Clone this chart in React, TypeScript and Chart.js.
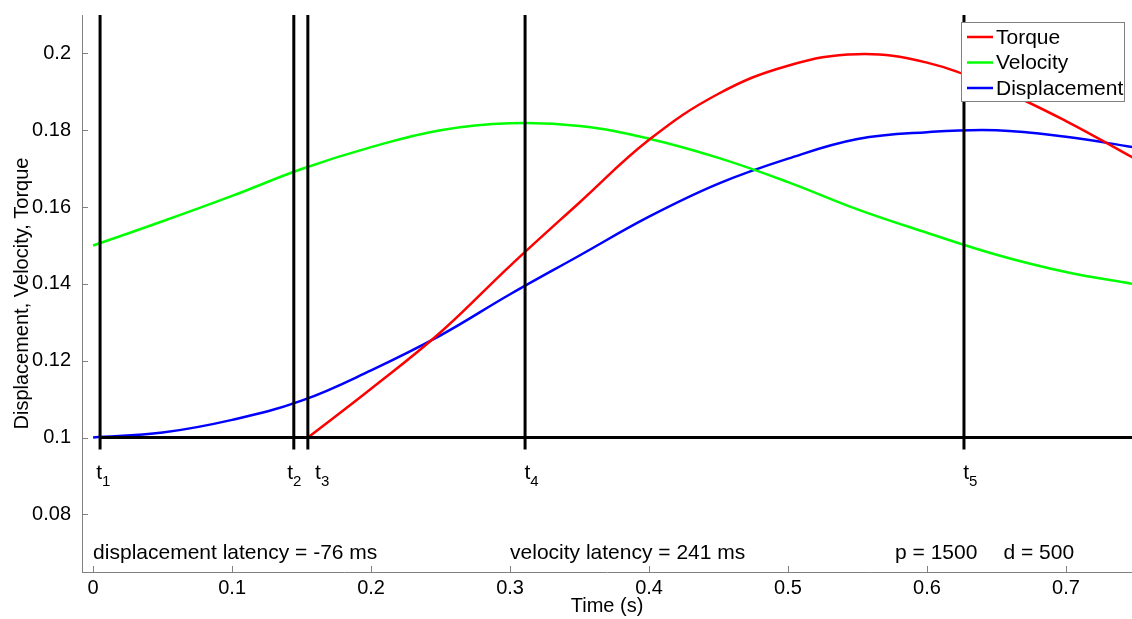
import React, { useEffect, useRef } from 'react';
import { Chart, registerables } from 'chart.js';

Chart.register(...registerables);

// ---- data ----
const timeValues = [0, 0.05, 0.1, 0.15, 0.2, 0.25, 0.3, 0.35, 0.4, 0.45, 0.5, 0.55, 0.6, 0.65, 0.7, 0.75];
const velocityValues = [0.15, 0.1563, 0.1629, 0.1699, 0.1756, 0.18, 0.1818, 0.1811, 0.1778, 0.1728, 0.1665, 0.1594, 0.1533, 0.1476, 0.1431, 0.1399];
const displacementValues = [0.1, 0.1013, 0.1046, 0.1096, 0.1175, 0.1266, 0.1373, 0.1474, 0.1575, 0.1661, 0.1726, 0.1777, 0.1795, 0.18, 0.1783, 0.1755];
const torqueTime = [0.1545, 0.2, 0.25, 0.3, 0.35, 0.4, 0.45, 0.5, 0.55, 0.6, 0.65, 0.7, 0.75];
const torqueValues = [0.1, 0.1127, 0.1274, 0.1447, 0.1612, 0.1775, 0.1895, 0.1968, 0.1998, 0.1976, 0.191, 0.1824, 0.1725];

const eventTimes = [0.005, 0.1444, 0.1545, 0.3108, 0.6266];
const eventSubscripts = ['1', '2', '3', '4', '5'];
const eventLabelX = [0.0022, 0.1396, 0.1597, 0.3104, 0.626];
const eventLabelY = 0.0893;
const eventLineBottom = 0.0969;
const baselineValue = 0.1;

const xTicks = [0, 0.1, 0.2, 0.3, 0.4, 0.5, 0.6, 0.7];
const yTicks = [0.08, 0.1, 0.12, 0.14, 0.16, 0.18, 0.2];

const annotationTexts = ['displacement latency = -76 ms', 'velocity latency = 241 ms', 'p = 1500', 'd = 500'];
const annotationX = [0, 0.3, 0.577, 0.655];
const annotationY = 0.07;

const seriesNames = ['Torque', 'Velocity', 'Displacement'];
const seriesColors = ['#ff0000', '#00ff00', '#0000ff'];

const FONT = '"Liberation Sans", Arial, Helvetica, sans-serif';
const FS = 20;
const FS_TEXT = 21;

const overlayPlugin = {
  id: 'overlay',
  afterDatasetsDraw(chart: any) {
    const { ctx, chartArea } = chart;
    const xs = chart.scales.x;
    const ys = chart.scales.y;
    ctx.save();

    // inward tick marks
    ctx.strokeStyle = '#808080';
    ctx.lineWidth = 1;
    xTicks.forEach((v) => {
      const px = Math.round(xs.getPixelForValue(v)) + 0.5;
      ctx.beginPath();
      ctx.moveTo(px, chartArea.bottom);
      ctx.lineTo(px, chartArea.bottom - 6);
      ctx.stroke();
    });
    yTicks.forEach((v) => {
      const py = Math.round(ys.getPixelForValue(v)) + 0.5;
      ctx.beginPath();
      ctx.moveTo(chartArea.left, py);
      ctx.lineTo(chartArea.left + 6, py);
      ctx.stroke();
    });

    // event lines
    ctx.strokeStyle = '#000';
    ctx.lineWidth = 3;
    eventTimes.forEach((t) => {
      const px = xs.getPixelForValue(t);
      ctx.beginPath();
      ctx.moveTo(px, chartArea.top);
      ctx.lineTo(px, ys.getPixelForValue(eventLineBottom));
      ctx.stroke();
    });
    const by = ys.getPixelForValue(baselineValue);
    ctx.beginPath();
    ctx.moveTo(xs.getPixelForValue(eventTimes[0]), by);
    ctx.lineTo(chartArea.right, by);
    ctx.stroke();

    // event labels
    ctx.fillStyle = '#000';
    ctx.textBaseline = 'alphabetic';
    ctx.textAlign = 'left';
    eventLabelX.forEach((lx, i) => {
      const px = xs.getPixelForValue(lx);
      const py = ys.getPixelForValue(eventLabelY);
      ctx.font = `${FS_TEXT}px ${FONT}`;
      ctx.fillText('t', px, py);
      const w = ctx.measureText('t').width;
      ctx.font = `${Math.round(FS_TEXT * 0.7)}px ${FONT}`;
      ctx.fillText(eventSubscripts[i], px + w, py + 7);
    });

    // annotations
    ctx.font = `${FS_TEXT}px ${FONT}`;
    ctx.textBaseline = 'middle';
    annotationTexts.forEach((txt, i) => {
      ctx.fillText(txt, xs.getPixelForValue(annotationX[i]), ys.getPixelForValue(annotationY));
    });

    // legend
    const lx0 = 961, ly0 = 22, lw = 163, lh = 79;
    ctx.fillStyle = '#fff';
    ctx.fillRect(lx0, ly0, lw, lh);
    ctx.strokeStyle = '#808080';
    ctx.lineWidth = 1;
    ctx.strokeRect(lx0 + 0.5, ly0 + 0.5, lw, lh);
    seriesNames.forEach((name, i) => {
      const rowY = ly0 + 15 + i * 25.5;
      ctx.strokeStyle = seriesColors[i];
      ctx.lineWidth = 2.5;
      ctx.beginPath();
      ctx.moveTo(lx0 + 6, rowY);
      ctx.lineTo(lx0 + 32, rowY);
      ctx.stroke();
      ctx.fillStyle = '#000';
      ctx.font = `${FS_TEXT}px ${FONT}`;
      ctx.textBaseline = 'middle';
      ctx.fillText(name, lx0 + 35, rowY + 1);
    });

    ctx.restore();
  },
};

export default function App() {
  const ref = useRef<HTMLCanvasElement | null>(null);

  useEffect(() => {
    document.body.style.margin = '0';
    const canvas = ref.current;
    if (!canvas) return;
    const mk = (xv: number[], yv: number[]) => xv.map((x, i) => ({ x, y: yv[i] }));
    const common = { borderWidth: 2.5, pointRadius: 0, tension: 0.4, fill: false };
    const chart = new Chart(canvas, {
      type: 'line',
      data: {
        datasets: [
          { label: seriesNames[0], data: mk(torqueTime, torqueValues), borderColor: seriesColors[0], ...common },
          { label: seriesNames[1], data: mk(timeValues, velocityValues), borderColor: seriesColors[1], ...common },
          { label: seriesNames[2], data: mk(timeValues, displacementValues), borderColor: seriesColors[2], ...common },
        ],
      },
      options: {
        animation: false,
        responsive: false,
        layout: { padding: { top: 15, left: 0, right: 0, bottom: 0 } },
        plugins: { legend: { display: false }, tooltip: { enabled: false } },
        scales: {
          x: {
            type: 'linear',
            min: -0.008,
            max: 0.7475,
            afterBuildTicks: (s: any) => { s.ticks = xTicks.map((v) => ({ value: v })); },
            afterFit: (s: any) => { s.height = 47; s.paddingLeft = 0; s.paddingRight = 0; },
            grid: { display: false, drawTicks: false, tickLength: 0 },
            border: { display: true, color: '#808080', width: 1 },
            ticks: { color: '#000', font: { family: FONT, size: FS }, padding: 4, maxRotation: 0, callback: (v: any) => String(v) },
            title: { display: true, text: 'Time (s)', color: '#000', font: { family: FONT, size: FS }, padding: { top: 0, bottom: 1 } },
          },
          y: {
            type: 'linear',
            min: 0.065,
            max: 0.21,
            afterBuildTicks: (s: any) => { s.ticks = yTicks.map((v) => ({ value: v })); },
            afterFit: (s: any) => { s.width = 82; s.paddingTop = 0; s.paddingBottom = 0; },
            grid: { display: false, drawTicks: false, tickLength: 0 },
            border: { display: true, color: '#808080', width: 1 },
            ticks: { color: '#000', font: { family: FONT, size: FS }, padding: 11, callback: (v: any) => String(v) },
            title: { display: true, text: 'Displacement, Velocity, Torque', color: '#000', font: { family: FONT, size: FS }, padding: { top: 10, bottom: 0 } },
          },
        },
      },
      plugins: [overlayPlugin],
    } as any);
    return () => chart.destroy();
  }, []);

  return (
    <div style={{ width: 1132, height: 619, background: '#fff' }}>
      <canvas ref={ref} width={1132} height={619} style={{ display: 'block' }} />
    </div>
  );
}
